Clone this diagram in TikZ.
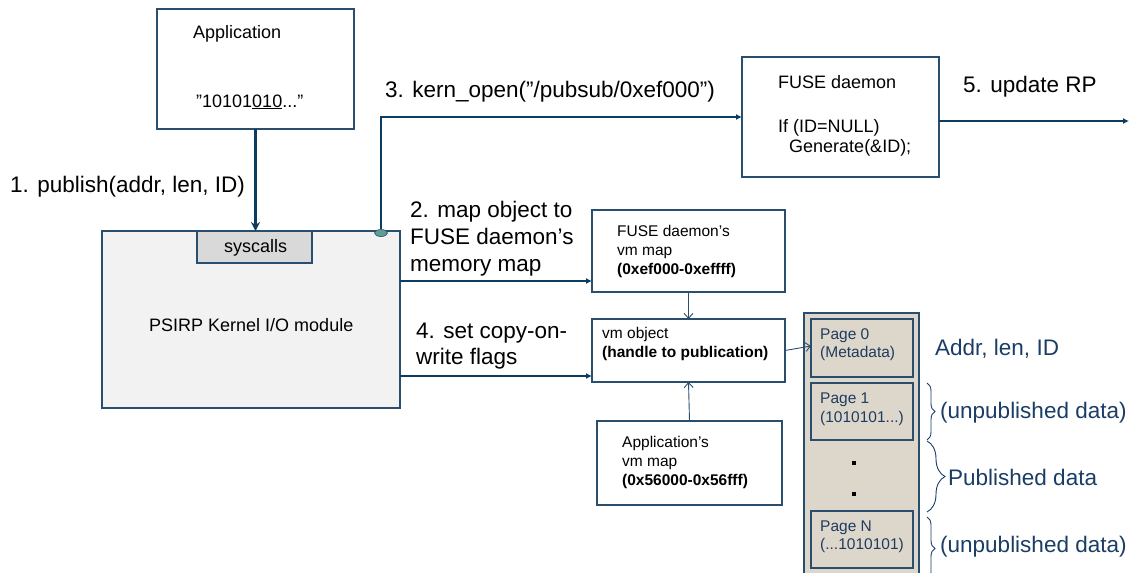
\documentclass[tikz,border=0pt]{standalone}
\usepackage{fontspec}
\setmainfont{Liberation Sans}
\usetikzlibrary{arrows.meta,decorations.pathreplacing,shapes.geometric}
\definecolor{navy}{HTML}{0B3C61}
\definecolor{boxline}{HTML}{2A4F6E}
\definecolor{kernfill}{HTML}{F2F2F2}
\definecolor{sysfill}{HTML}{D9D9D9}
\definecolor{colfill}{HTML}{DDD6CB}
\definecolor{pagetext}{HTML}{1F3C5E}
\definecolor{annot}{HTML}{1A3D66}
\definecolor{tapfill}{HTML}{5E9E96}

\tikzset{
  box/.style={draw=boxline, line width=1.1pt, inner sep=0pt, outer sep=0pt,
              fill=white, anchor=north west},
  bigl/.style={anchor=base west, inner sep=0pt, font=\fontsize{22.5}{27}\selectfont},
  midl/.style={anchor=base west, inner sep=0pt, font=\fontsize{18}{22}\selectfont},
  smll/.style={anchor=base west, inner sep=0pt, font=\fontsize{15.5}{19}\selectfont},
  pagel/.style={smll, text=pagetext},
  annotl/.style={bigl, text=annot},
  heavy/.style={draw=navy, line width=3pt, -{Stealth[length=9pt,width=9pt,inset=3pt]}},
  flow/.style={draw=navy, line width=2.2pt, -{Latex[length=6pt,width=6pt]}},
  thin/.style={draw=boxline, line width=0.9pt, -{Straight Barb[length=5pt,width=9pt]}},
  curly/.style={draw=annot, line width=0.9pt, decorate},
  dot/.style={fill=black, inner sep=0pt, minimum size=3.5pt, outer sep=0pt}
}

\begin{document}
\begin{tikzpicture}[x=1pt,y=-1pt]
\useasboundingbox (0,0) rectangle (1130,573);

% ---- boxes ----
\node[box, minimum width=197, minimum height=120] (app) at (157,9) {};
\node[box, fill=kernfill, minimum width=298, minimum height=177] (kern) at (102,231) {};
\node[box, fill=sysfill, minimum width=115, minimum height=32] (sys) at (197,231) {};
\node[box, minimum width=197, minimum height=120] (fuse) at (742,57) {};
\node[box, minimum width=193, minimum height=82] (fmap) at (592,210) {};
\node[box, minimum width=193, minimum height=63] (vmobj) at (592,319) {};
\node[box, minimum width=185, minimum height=84] (amap) at (597,421) {};
\node[box, fill=colfill, minimum width=115, minimum height=268] (col) at (804,313) {};
\node[box, fill=colfill, minimum width=102, minimum height=58] (page0) at (811,319) {};
\node[box, fill=colfill, minimum width=102, minimum height=57] (page1) at (811,383) {};
\node[box, fill=colfill, minimum width=102, minimum height=57] (pageN) at (811,511) {};
\node[ellipse, fill=tapfill, draw=boxline, line width=0.6pt, inner sep=0pt,
      minimum width=13pt, minimum height=7pt] (tap) at (381,233) {};

% ---- box texts ----
\node[midl] (appT) at (193,38) {Application};
\node[midl] (appD) at (196,107) {”10101\underline{010}...”};
\node[midl] (sysT) at (224,252) {syscalls};
\node[midl] (kernT) at (149,331) {PSIRP Kernel I/O module};
\node[midl] (fuseT) at (778,88) {FUSE daemon};
\node[midl] (fuseA) at (778,132) {If (ID=NULL)};
\node[midl] (fuseB) at (789,152) {Generate(\&ID);};
\node[smll] (fmapA) at (617,236) {FUSE daemon’s};
\node[smll] (fmapB) at (617,255) {vm map};
\node[smll] (fmapC) at (617,274) {\bfseries (0xef000-0xeffff)};
\node[smll] (vmA) at (602,338) {vm object};
\node[smll] (vmB) at (602,357) {\bfseries (handle to publication)};
\node[smll] (amapA) at (622,447) {Application’s};
\node[smll] (amapB) at (622,466) {vm map};
\node[smll] (amapC) at (622,485) {\bfseries (0x56000-0x56fff)};
\node[pagel] (p0A) at (820,339) {Page 0};
\node[pagel] (p0B) at (820,357) {(Metadata)};
\node[pagel] (p1A) at (820,403) {Page 1};
\node[pagel] (p1B) at (820,422) {(1010101...)};
\node[pagel] (pNA) at (820,531) {Page N};
\node[pagel] (pNB) at (820,549) {(...1010101)};
\node[dot] (dotA) at (854,463) {};
\node[dot] (dotB) at (854,494) {};

% ---- step labels ----
\node[bigl] (s1) at (10,192) {1. publish(addr, len, ID)};
\node[bigl] (s2a) at (410,217) {2. map object to};
\node[bigl] (s2b) at (410,244) {FUSE daemon’s};
\node[bigl] (s2c) at (410,271) {memory map};
\node[bigl] (s3) at (385,97) {3. kern\_open(”/pubsub/0xef000”)};
\node[bigl] (s4a) at (416,338) {4. set copy-on-};
\node[bigl] (s4b) at (416,364) {write flags};
\node[bigl] (s5) at (963,92) {5. update RP};

% ---- page annotations ----
\node[annotl] (meta) at (935,355) {Addr, len, ID};
\node[annotl] (un1) at (940,418) {(unpublished data)};
\node[annotl] (pub) at (948,485) {Published data};
\node[annotl] (un2) at (940,552) {(unpublished data)};

% ---- connectors ----
\coordinate (rp) at (1129,121);
\coordinate (m2) at ([yshift=11pt]fmap.south west);
\coordinate (m4) at ([yshift=6pt]vmobj.south west);

\draw[heavy] (app.south) -- (app.south |- sys.north);
\draw[flow] (tap.north) |- (fuse.west);
\draw[flow] (fuse.east |- rp) -- (rp);
\draw[flow] (kern.east |- m2) -- (m2);
\draw[flow] (kern.east |- m4) -- (m4);
\draw[thin] (fmap.south) -- (vmobj.north);
\draw[thin] (amap.north) -- (vmobj.south);
\draw[thin] (vmobj.east) -- ([yshift=2pt]page0.west);

% ---- braces ----
\draw[curly, decoration={brace, amplitude=8pt}]
  ([xshift=14pt]page1.north east) -- ([xshift=14pt]page1.south east);
\draw[curly, decoration={brace, amplitude=18pt}]
  ([xshift=14pt,yshift=-1pt]page1.south east) -- ([xshift=14pt,yshift=-1pt]pageN.north east);
\draw[curly, decoration={brace, amplitude=8pt}]
  ([xshift=14pt,yshift=-6pt]pageN.north east) -- ([xshift=14pt,yshift=-12pt]pageN.south east);
\end{tikzpicture}
\end{document}
